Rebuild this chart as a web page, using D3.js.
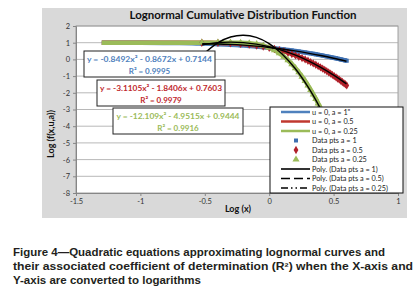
<!DOCTYPE html>
<html>
<head>
<meta charset="utf-8">
<script src="https://cdn.jsdelivr.net/npm/d3@7"></script>
<style>
body { margin:0; background:#fff; }
svg { display:block; font-family: Lato, "Open Sans", sans-serif; }
</style>
</head>
<body>
<svg width="420" height="301"></svg>
<script>
// values (log10 x, log10 f)
var leadLogX = [-1.30, -1.00, -0.82, -0.70, -0.60];
var ptsLogX = [-0.523, -0.398, -0.301, -0.222, -0.155, -0.097, -0.046, 0, 0.041, 0.079,
    0.114, 0.146, 0.176, 0.204, 0.230, 0.255, 0.279, 0.301, 0.322, 0.342,
    0.362, 0.380, 0.398, 0.415, 0.431, 0.447, 0.462, 0.477, 0.491, 0.505,
    0.519, 0.531, 0.544, 0.556, 0.568, 0.580, 0.591, 0.602];

var blueLead = [1.000, 0.995, 0.987, 0.976, 0.963];
var redLead = [1.000, 1.000, 1.000, 1.000, 0.999];
var greenLead = [1.000, 1.000, 1.000, 1.000, 1.000];

var bluePts = [0.947, 0.914, 0.878, 0.842, 0.806, 0.769, 0.734, 0.699, 0.665, 0.631,
    0.598, 0.566, 0.535, 0.504, 0.474, 0.444, 0.416, 0.387, 0.360, 0.333,
    0.306, 0.281, 0.255, 0.229, 0.205, 0.180, 0.157, 0.133, 0.111, 0.088,
    0.066, 0.043, 0.022, 0.000, -0.020, -0.041, -0.061, -0.081];
var redPts = [0.997, 0.985, 0.962, 0.928, 0.882, 0.828, 0.766, 0.699, 0.628, 0.553,
    0.477, 0.399, 0.320, 0.239, 0.159, 0.078, -0.002, -0.081, -0.162, -0.241,
    -0.320, -0.398, -0.476, -0.553, -0.629, -0.705, -0.779, -0.854, -0.927, -1.000,
    -1.072, -1.144, -1.215, -1.284, -1.353, -1.421, -1.489, -1.556];
var greenPts = [1.000, 1.000, 0.999, 0.991, 0.965, 0.911, 0.822, 0.699, 0.546, 0.367,
    0.168, -0.050, -0.281, -0.521, -0.772, -1.029, -1.290, -1.556, -1.824, -2.094,
    -2.366, -2.636, -2.907, -3.179, -3.450, -3.719, -3.987, -4.254, -4.520, -4.785,
    -5.048, -5.310, -5.567, -5.824, -6.080, -6.330, -6.580, -6.830];

// black trend curves
var polyLogX = [-0.52, -0.4, -0.3, -0.2, -0.1, 0, 0.1, 0.2, 0.3, 0.4, 0.5, 0.6];
var poly1 = [0.936, 0.925, 0.898, 0.854, 0.793, 0.714, 0.619, 0.507, 0.378, 0.232, 0.069, -0.112];
var poly2 = [0.876, 0.999, 1.033, 1.004, 0.913, 0.760, 0.545, 0.268, -0.072, -0.474, -0.938, -1.464];
var poly3 = [0.245, 0.988, 1.340, 1.450, 1.318, 0.944, 0.328, -0.530, -1.631, -2.974, -4.559, -6.386];

var xTicks = [-1.5, -1, -0.5, 0, 0.5, 1];
var yTicks = [2, 1, 0, -1, -2, -3, -4, -5, -6, -7, -8];

var legendLabels = ['u = 0, a = 1"', 'u = 0, a = 0.5', 'u = 0, a = 0.25',
    'Data pts a = 1', 'Data pts a = 0.5', 'Data pts a = 0.25',
    'Poly. (Data pts a = 1)', 'Poly. (Data pts a = 0.5)', 'Poly. (Data pts a = 0.25)'];

var eqTexts = [
    ['y = -0.8492x\u00b2 - 0.8672x + 0.7144', 'R\u00b2 = 0.9995'],
    ['y = -3.1105x\u00b2 - 1.8406x + 0.7603', 'R\u00b2 = 0.9979'],
    ['y = -12.109x\u00b2 - 4.9515x + 0.9444', 'R\u00b2 = 0.9916']
];

var captionLines = [
    'Figure 4\u2014Quadratic equations approximating lognormal curves and',
    'their associated coefficient of determination (R\u00b2) when the X-axis and',
    'Y-axis are converted to logarithms'
];

var BLUE = '#4f81bd', RED = '#c0392f', GREEN = '#9bbb59';

var svg = d3.select('svg');

var x = d3.scaleLinear().domain([-1.5, 1]).range([76, 398]);
var y = d3.scaleLinear().domain([-8, 2]).range([193, 26]);

// chart + plot background
svg.append('rect').attr('x', 42).attr('y', 8).attr('width', 365).attr('height', 210)
    .attr('fill', '#d9d9d9');
svg.append('rect').attr('x', 76).attr('y', 26).attr('width', 322).attr('height', 167)
    .attr('fill', '#fff').attr('stroke', '#8c8c8c').attr('stroke-width', 0.8);

// gridlines
svg.append('g').selectAll('line')
    .data(yTicks.filter(function(d){ return d > -8; }))
    .enter().append('line')
    .attr('x1', 76).attr('x2', 398)
    .attr('y1', function(d){ return y(d); }).attr('y2', function(d){ return y(d); })
    .attr('stroke', '#a6a6a6').attr('stroke-width', 0.8);

// axes
var xAxis = svg.append('g').attr('transform', 'translate(0,193)')
    .call(d3.axisBottom(x).tickValues(xTicks).tickSize(3).tickFormat(function(d){ return String(d); }));
var yAxis = svg.append('g').attr('transform', 'translate(76,0)')
    .call(d3.axisLeft(y).tickValues(yTicks).tickSize(3).tickFormat(function(d){ return String(d); }));
[xAxis, yAxis].forEach(function(a){
    a.select('.domain').attr('stroke', '#868686');
    a.selectAll('.tick line').attr('stroke', '#868686');
    a.selectAll('.tick text').attr('fill', '#333').attr('font-size', 7.5)
        .attr('font-family', 'Lato, sans-serif');
});
yAxis.selectAll('.tick text').attr('x', -6);

svg.append('defs').append('clipPath').attr('id', 'plotclip')
    .append('rect').attr('x', 76).attr('y', 26).attr('width', 322).attr('height', 167);
var plot = svg.append('g').attr('clip-path', 'url(#plotclip)');

var line = d3.line()
    .x(function(d){ return x(d[0]); })
    .y(function(d){ return y(d[1]); })
    .curve(d3.curveCatmullRom);

var allLogX = leadLogX.concat(ptsLogX);
var curves = [
    {vals: blueLead.concat(bluePts), color: BLUE},
    {vals: redLead.concat(redPts), color: RED},
    {vals: greenLead.concat(greenPts), color: GREEN}
];
curves.forEach(function(c){
    plot.append('path')
        .datum(allLogX.map(function(v, i){ return [v, c.vals[i]]; }))
        .attr('d', line).attr('fill', 'none')
        .attr('stroke', c.color).attr('stroke-width', 4.5);
});

// data point markers
var sym = {
    blue: d3.symbol().type(d3.symbolSquare).size(16),
    red: d3.symbol().type(d3.symbolDiamond).size(20),
    green: d3.symbol().type(d3.symbolTriangle).size(22)
};
[[bluePts, sym.blue, '#3e6fb0'], [redPts, sym.red, '#b0202a'], [greenPts, sym.green, '#9bbb59']]
    .forEach(function(s){
        plot.append('g').selectAll('path')
            .data(ptsLogX.map(function(v, i){ return [v, s[0][i]]; }))
            .enter().append('path')
            .attr('d', s[1])
            .attr('transform', function(d){ return 'translate(' + x(d[0]) + ',' + y(d[1]) + ')'; })
            .attr('fill', s[2]);
    });

// trend curves
[poly1, poly2, poly3].forEach(function(p){
    plot.append('path')
        .datum(polyLogX.map(function(v, i){ return [v, p[i]]; }))
        .attr('d', line).attr('fill', 'none')
        .attr('stroke', '#000').attr('stroke-width', 1.4);
});

// equation boxes
var eqBoxes = [
    {x: 84, y: 51, w: 131, color: '#4f81bd', len: 125},
    {x: 97, y: 80, w: 128, color: '#c0282d', len: 122},
    {x: 113, y: 108, w: 130, color: '#9bbb59', len: 123}
];
eqBoxes.forEach(function(b, i){
    var g = svg.append('g');
    g.append('rect').attr('x', b.x).attr('y', b.y).attr('width', b.w).attr('height', 26)
        .attr('fill', '#fff').attr('stroke', '#222').attr('stroke-width', 1);
    g.append('text').attr('x', b.x + b.w / 2).attr('y', b.y + 11)
        .attr('text-anchor', 'middle').attr('font-size', 8).attr('font-weight', 'bold')
        .attr('fill', b.color).attr('textLength', b.len).attr('lengthAdjust', 'spacingAndGlyphs')
        .text(eqTexts[i][0]);
    g.append('text').attr('x', b.x + b.w / 2).attr('y', b.y + 22.5)
        .attr('text-anchor', 'middle').attr('font-size', 8).attr('font-weight', 'bold')
        .attr('fill', b.color).text(eqTexts[i][1]);
});

// legend
var leg = svg.append('g');
leg.append('rect').attr('x', 270).attr('y', 107).attr('width', 133).attr('height', 86)
    .attr('fill', '#fff').attr('stroke', '#111').attr('stroke-width', 1);
legendLabels.forEach(function(t, i){
    var ry = 112 + i * 9.5;
    if (i < 3) {
        leg.append('line').attr('x1', 281).attr('x2', 310).attr('y1', ry).attr('y2', ry)
            .attr('stroke', [BLUE, RED, GREEN][i]).attr('stroke-width', 2.5);
    } else if (i < 6) {
        leg.append('path').attr('d', [sym.blue, sym.red, sym.green][i - 3])
            .attr('transform', 'translate(296,' + ry + ')')
            .attr('fill', ['#3e6fb0', '#b0202a', '#9bbb59'][i - 3]);
    } else {
        leg.append('line').attr('x1', 281).attr('x2', 310).attr('y1', ry).attr('y2', ry)
            .attr('stroke', '#000').attr('stroke-width', 1.6)
            .attr('stroke-dasharray', [null, '9,4', '7,3,1.5,3,1.5,3'][i - 6]);
    }
    leg.append('text').attr('x', 312).attr('y', ry + 2.7)
        .attr('font-size', 7.3).attr('fill', '#222').text(t);
});

// titles
svg.append('text').attr('x', 243).attr('y', 19).attr('text-anchor', 'middle')
    .attr('font-size', 11).attr('font-weight', 'bold').attr('fill', '#111')
    .attr('textLength', 227).attr('lengthAdjust', 'spacingAndGlyphs')
    .text('Lognormal Cumulative Distribution Function');
svg.append('text').attr('x', 238).attr('y', 212).attr('text-anchor', 'middle')
    .attr('font-size', 9).attr('font-weight', 'bold').attr('fill', '#111')
    .text('Log (x)');
svg.append('text').attr('transform', 'translate(54,134) rotate(-90)')
    .attr('text-anchor', 'middle').attr('font-size', 9).attr('font-weight', 'bold')
    .attr('fill', '#111').text('Log (f(x,u,a))');

// caption
var capLens = [372, 400, 188];
captionLines.forEach(function(t, i){
    svg.append('text').attr('x', 13).attr('y', 256 + i * 14)
        .attr('font-family', '"Liberation Sans", Arial, sans-serif')
        .attr('font-size', 10.2).attr('font-weight', 'bold').attr('fill', '#231f20')
        .attr('textLength', capLens[i]).attr('lengthAdjust', 'spacingAndGlyphs')
        .text(t);
});
</script>
</body>
</html>
